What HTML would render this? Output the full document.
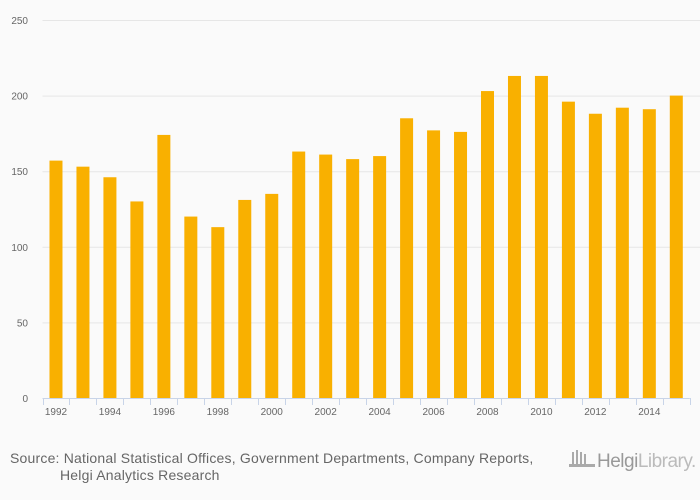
<!DOCTYPE html>
<html><head><meta charset="utf-8"><style>
body{margin:0;background:#fafafa;}
svg{display:block;font-family:"Liberation Sans",sans-serif;}
</style></head><body>
<svg width="700" height="500" id="c">
<rect width="700" height="500" fill="#fafafa"/>
<g id="grid"></g><g id="bars"></g><g id="axis"></g>
<text x="10" y="463" font-size="14" letter-spacing="0.2" fill="#666">Source: National Statistical Offices, Government Departments, Company Reports,</text>
<text x="60" y="480" font-size="14" letter-spacing="0.2" fill="#666">Helgi Analytics Research</text>
<g>
<g fill="#aaa"><rect x="572" y="452" width="2" height="12"/><rect x="576" y="450" width="2" height="14"/><rect x="580" y="452" width="2" height="12"/><rect x="584" y="454" width="2" height="10"/><rect x="569" y="464" width="26" height="3"/></g>
<text x="597" y="467" font-size="19" fill="#999" letter-spacing="-0.5">Helgi<tspan fill="#bbb">Library.</tspan></text>
</g>
</svg>
<script>
const years=[1992,1993,1994,1995,1996,1997,1998,1999,2000,2001,2002,2003,2004,2005,2006,2007,2008,2009,2010,2011,2012,2013,2014,2015];
const values=[157,153,146,130,174,120,113,131,135,163,161,158,160,185,177,176,203,213,213,196,188,192,191,200];
const yTicks=[0,50,100,150,200,250];
const NS='http://www.w3.org/2000/svg';
const x0=42.5,band=26.97,yBase=398,yTop=20,vMax=250;
const y=v=>yBase-(v/vMax)*(yBase-yTop);
const xc=i=>x0+band*(i+0.5);
function mk(t,a,p){const e=document.createElementNS(NS,t);for(const k in a)e.setAttribute(k,a[k]);p.appendChild(e);return e;}
const g=document.getElementById('grid'),b=document.getElementById('bars'),ax=document.getElementById('axis');
yTicks.forEach(v=>{
 if(v>0){const l=mk('line',{x1:x0,x2:700,y1:y(v)+0.5,y2:y(v)+0.5,stroke:'#e6e6e6'},g);
 
 }
 const t=mk('text',{x:28,y:y(v)+4,'font-size':10,fill:'#666','text-anchor':'end'},g);t.textContent=v;
 
 
});
values.forEach((v,i)=>{
 const r=mk('rect',{x:xc(i)-6.5,y:y(v),width:13,height:yBase-y(v),fill:'#f9b000'},b);
 
 
});
const al=mk('line',{x1:x0,x2:x0+band*years.length,y1:yBase+0.5,y2:yBase+0.5,stroke:'#c8d4e8'},ax);


for(let i=0;i<=years.length;i++){
 const tx=Math.round(x0+band*i)+0.5;
 const tk=mk('line',{x1:tx,x2:tx,y1:yBase,y2:yBase+7,stroke:'#c8d4e8'},ax);
 
 
}
years.forEach((yr,i)=>{
 if(i%2)return;
 const t=mk('text',{x:xc(i),y:415,'font-size':10,fill:'#666','text-anchor':'middle'},ax);t.textContent=yr;
 
 
});
</script>
</body></html>
